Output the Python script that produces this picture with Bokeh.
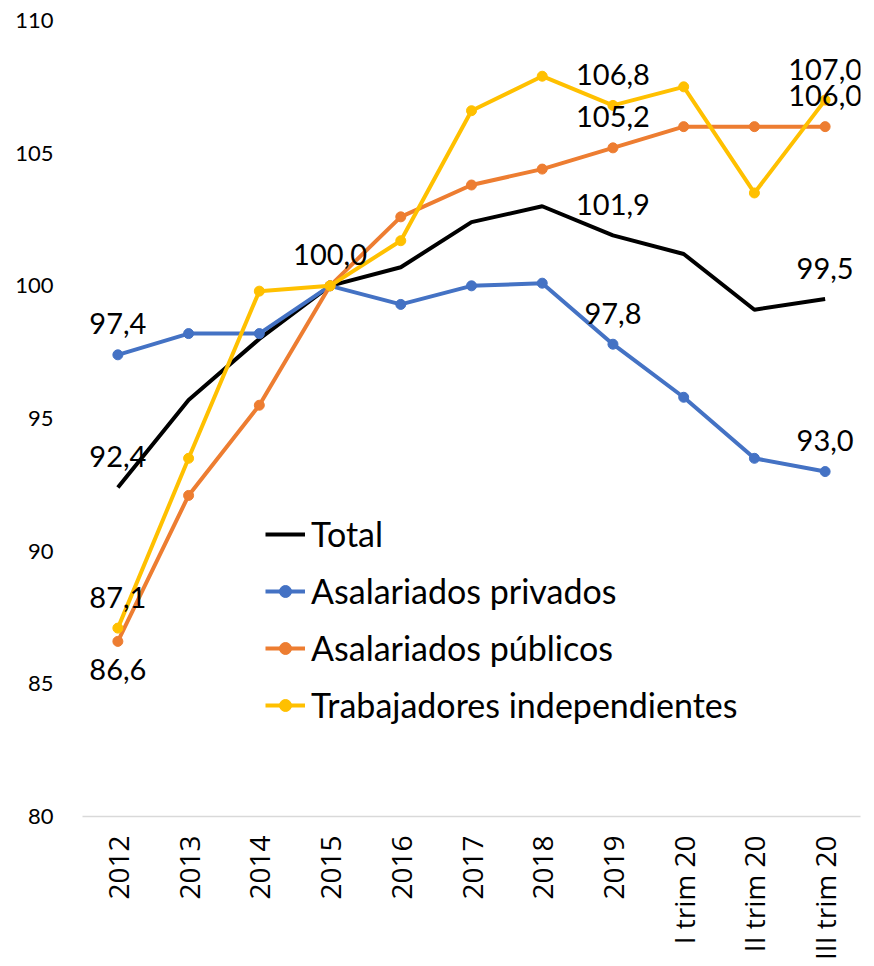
import math
from bokeh.plotting import figure
from bokeh.models import FactorRange, Range1d, FixedTicker, ColumnDataSource
from bokeh.core.properties import value
from bokeh.embed import file_html
from bokeh.resources import INLINE

categories = ["2012", "2013", "2014", "2015", "2016", "2017", "2018", "2019",
              "I trim 20", "II trim 20", "III trim 20"]
total = [92.4, 95.7, 98.0, 100.0, 100.7, 102.4, 103.0, 101.9, 101.2, 99.1, 99.5]
privados = [97.4, 98.2, 98.2, 100.0, 99.3, 100.0, 100.1, 97.8, 95.8, 93.5, 93.0]
publicos = [86.6, 92.1, 95.5, 100.0, 102.6, 103.8, 104.4, 105.2, 106.0, 106.0, 106.0]
independientes = [87.1, 93.5, 99.8, 100.0, 101.7, 106.6, 107.9, 106.8, 107.5, 103.5, 107.0]
y_ticks = [80, 85, 90, 95, 100, 105, 110]

series_names = ["Total", "Asalariados privados", "Asalariados públicos",
                "Trabajadores independientes"]
# data labels shown: (series index, category index)
labels_above = [(1, 0), (0, 0), (3, 0), (0, 3), (3, 7), (2, 7), (0, 7), (1, 7),
                (3, 10), (2, 10), (0, 10), (1, 10)]
labels_below = [(2, 0)]

colors = ["#000000", "#4472C4", "#ED7D31", "#FFC000"]
all_series = [total, privados, publicos, independientes]

p = figure(width=870, height=962, x_range=FactorRange(*categories),
           y_range=Range1d(80, 110), output_backend="svg", toolbar_location=None,
           min_border_left=82, min_border_right=10, min_border_top=20,
           min_border_bottom=142)
p.outline_line_color = None
p.xgrid.grid_line_color = None
p.ygrid.grid_line_color = None
p.background_fill_color = "white"

for i, (name, vals, col) in enumerate(zip(series_names, all_series, colors)):
    src = ColumnDataSource(dict(x=categories, y=vals))
    p.line("x", "y", source=src, line_color=col, line_width=4, legend_label=name)
    if i > 0:
        p.scatter("x", "y", source=src, size=10, fill_color=col, line_color=col,
                  legend_label=name)

def label_source(pairs):
    xs, ys, ts = [], [], []
    for s, k in pairs:
        v = all_series[s][k]
        xs.append(categories[k])
        ys.append(v)
        ts.append(f"{v:.1f}".replace(".", ","))
    return ColumnDataSource(dict(x=xs, y=ys, t=ts))

p.text("x", "y", text="t", source=label_source(labels_above), text_align="center",
       text_baseline="middle", y_offset=-31, text_font=value("Lato"),
       text_font_size="29px", text_color="#000000")
p.text("x", "y", text="t", source=label_source(labels_below), text_align="center",
       text_baseline="middle", y_offset=28, text_font=value("Lato"),
       text_font_size="29px", text_color="#000000")

# axes
p.yaxis.ticker = FixedTicker(ticks=y_ticks)
p.yaxis.axis_line_color = None
p.yaxis.major_tick_line_color = None
p.yaxis.minor_tick_line_color = None
p.yaxis.major_tick_out = 0
p.yaxis.major_tick_in = 0
p.yaxis.major_label_standoff = 29
p.yaxis.major_label_text_font = "Lato"
p.yaxis.major_label_text_font_size = "22px"
p.yaxis.major_label_text_color = "#000000"

p.xaxis.axis_line_color = "#D9D9D9"
p.xaxis.axis_line_width = 1.5
p.xaxis.major_tick_line_color = None
p.xaxis.minor_tick_line_color = None
p.xaxis.major_tick_out = 0
p.xaxis.major_tick_in = 0
p.xaxis.major_label_orientation = math.pi / 2
p.xaxis.major_label_standoff = 19
p.xaxis.major_label_text_font = "Open Sans"
p.xaxis.major_label_text_font_size = "28px"
p.xaxis.major_label_text_color = "#000000"

# legend
p.legend.location = (183, 91)
p.legend.background_fill_alpha = 0
p.legend.border_line_color = None
p.legend.padding = 0
p.legend.margin = 0
p.legend.spacing = 16
p.legend.label_height = 30
p.legend.glyph_height = 30
p.legend.glyph_width = 40
p.legend.label_standoff = 6
p.legend.label_text_font = "Lato"
p.legend.label_text_font_size = "34px"
p.legend.label_text_color = "#000000"

open("out.html", "w").write(file_html(p, INLINE))
